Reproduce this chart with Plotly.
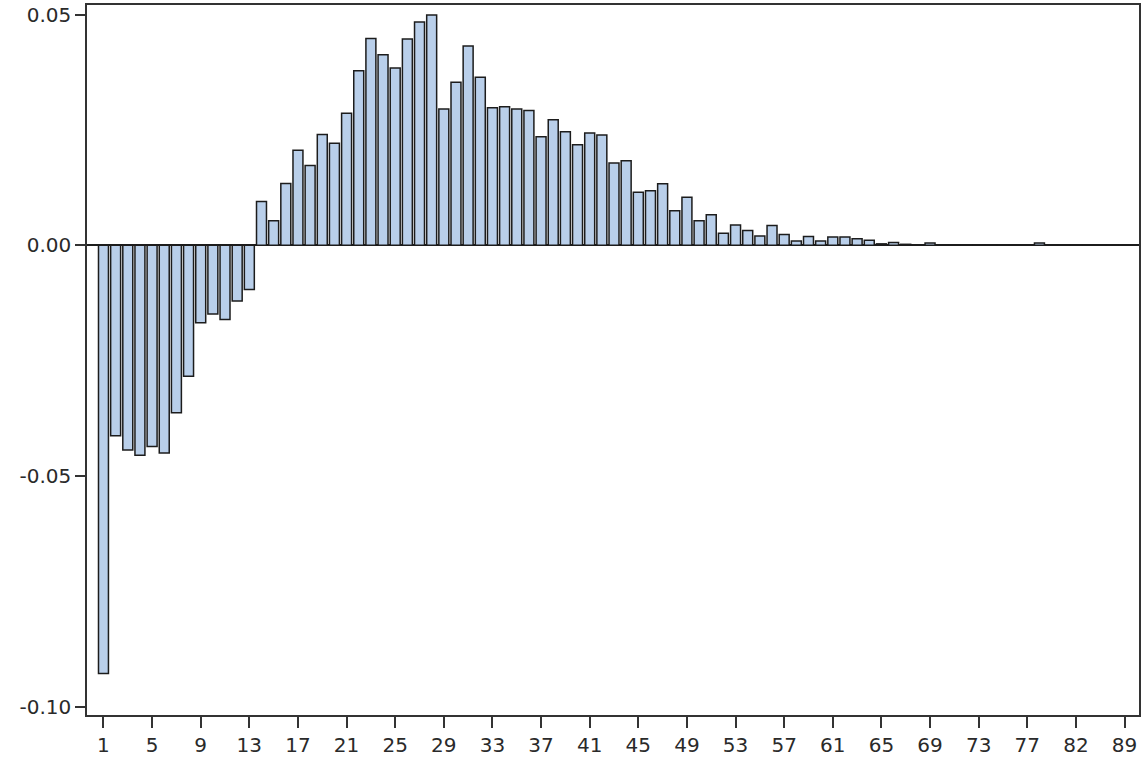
import plotly.graph_objects as go

categories = [str(i) for i in range(1, 78)] + ["78", "79", "80", "82", "83", "85", "86", "89"]

values = [
    -0.0928, -0.0413, -0.0444, -0.0455, -0.0436, -0.0450, -0.0363, -0.0284, -0.0168, -0.0149,
    -0.0161, -0.0121, -0.0096, 0.0095, 0.0053, 0.0134, 0.0206, 0.0173, 0.0240, 0.0221,
    0.0286, 0.0378, 0.0448, 0.0413, 0.0384, 0.0447, 0.0484, 0.0499, 0.0295, 0.0353,
    0.0432, 0.0364, 0.0298, 0.0300, 0.0295, 0.0292, 0.0235, 0.0272, 0.0246, 0.0218,
    0.0243, 0.0239, 0.0178, 0.0183, 0.0115, 0.0118, 0.0133, 0.0075, 0.0104, 0.0053,
    0.0066, 0.0026, 0.0044, 0.0032, 0.0020, 0.0043, 0.0023, 0.0009, 0.0019, 0.0009,
    0.0018, 0.0018, 0.0014, 0.0011, 0.0003, 0.0006, 0.0002, 0.0001, 0.0005, 0.0001,
    0.0001, 0.0001, 0.0001, 0.0001, 0.0001, 0.0001, 0.0001, 0.0005, 0.0001, 0.0001,
    0.0001, 0.0001, 0.0001, 0.0001, 0.0001,
]

tick_labels = ["1", "5", "9", "13", "17", "21", "25", "29", "33", "37", "41",
               "45", "49", "53", "57", "61", "65", "69", "73", "77", "82", "89"]
y_ticks = [0.05, 0.0, -0.05, -0.10]
y_tick_text = ["0.05", "0.00", "-0.05", "-0.10"]

fig = go.Figure()
fig.add_trace(go.Bar(
    x=categories,
    y=values,
    marker=dict(color="#b9cfea", line=dict(color="#1c1c1c", width=1.5)),
    showlegend=False,
))

fig.update_layout(
    width=1144,
    height=764,
    margin=dict(l=87, r=3, t=4, b=49),
    paper_bgcolor="white",
    plot_bgcolor="white",
    bargap=0.18,
    font=dict(family="DejaVu Sans, Verdana, sans-serif", size=20, color="#2a2a2a"),
    xaxis=dict(
        type="category",
        categoryorder="array",
        categoryarray=categories,
        range=[-1.355, 85.19],
        tickmode="array",
        tickvals=tick_labels,
        ticktext=tick_labels,
        ticks="outside",
        ticklen=11,
        tickwidth=1.5,
        tickcolor="#333333",
        showline=True,
        linecolor="#333333",
        linewidth=1.5,
        mirror=True,
        showgrid=False,
        ticklabeloverflow="allow",
        tickfont=dict(size=20),
    ),
    yaxis=dict(
        range=[-0.10180, 0.05206],
        tickmode="array",
        tickvals=y_ticks,
        ticktext=y_tick_text,
        ticks="outside",
        ticklen=10,
        tickwidth=1.5,
        tickcolor="#333333",
        showline=True,
        linecolor="#333333",
        linewidth=1.5,
        mirror=True,
        showgrid=False,
        zeroline=True,
        zerolinecolor="#1c1c1c",
        zerolinewidth=1.5,
        ticklabeloverflow="allow",
        tickfont=dict(size=20),
    ),
)

fig.write_html(
    "out.html",
    config={"displayModeBar": False},
    post_script="document.body.style.margin='0';document.documentElement.style.overflow='hidden';",
)
